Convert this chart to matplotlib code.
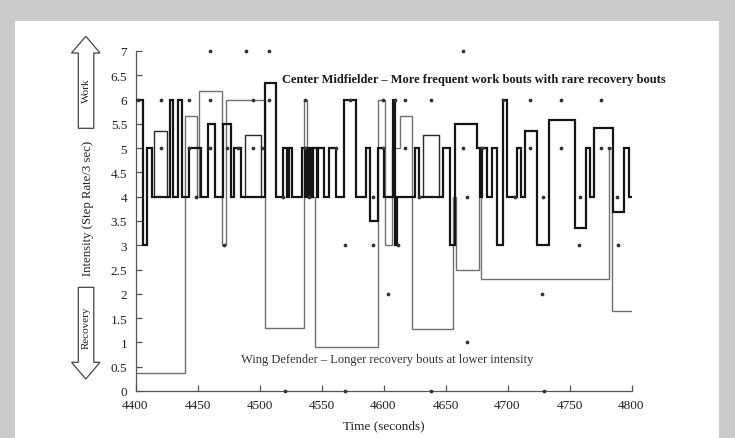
import matplotlib
matplotlib.use("Agg")
import matplotlib.pyplot as plt
from matplotlib.patches import Polygon, Rectangle

# ---------------- data ----------------
# Center midfielder: 3-second step-rate intensity (step function)
mid_edges = [4400, 4406, 4409.5, 4413.6, 4427.8, 4430.5, 4434, 4437.3, 4443.4, 4452.8,
             4458.7, 4464, 4470.8, 4476.8, 4479.4, 4484.8, 4504.2, 4513.6, 4519.2, 4522,
             4524, 4526.5, 4534.3, 4536.5, 4537.5, 4539.5, 4540.5, 4542.5, 4543.5, 4546,
             4547.4, 4552, 4556.3, 4561.7, 4568.2, 4577.8, 4586, 4589.1, 4595.3, 4600,
             4607.7, 4609.6, 4611, 4625.6, 4628.9, 4648, 4653.8, 4657.4, 4675.2, 4677.9,
             4679.7, 4683.8, 4687.8, 4691.8, 4696.4, 4699.4, 4708, 4711.2, 4714.4, 4723.8,
             4733.2, 4754.2, 4763.6, 4766.8, 4769.5, 4784.8, 4793.7, 4798.3, 4800]
mid_vals = [6, 3, 5, 4, 6, 4, 6, 4, 5, 4,
            5.5, 4, 5.5, 4, 5, 4, 6.35, 4, 5, 4,
            5, 4, 5, 4, 5, 4, 5, 4, 5, 4,
            5, 4, 5, 4, 6, 4, 5, 3.5, 5, 4,
            6, 3, 4, 5, 4, 5, 3, 5.5, 5, 4,
            5, 4, 5, 3, 6, 4, 5, 4, 5.35, 3,
            5.58, 3.35, 5, 4, 5.42, 3.68, 5, 4]

# Midfielder averaged bouts (thin boxes above the 4 baseline)
box_start = [4415, 4488.6, 4631.6]
box_end = [4425, 4501.5, 4644.8]
box_level = [5.35, 5.27, 5.27]
box_base = 4

# Wing defender: averaged bout intensity (step function)
def_edges = [4400, 4440, 4449.3, 4451.5, 4470, 4472.7, 4504.6, 4535.7, 4538.6, 4544.8,
             4595.5, 4601.2, 4607, 4613.5, 4622.8, 4656, 4658.8, 4676.8, 4679, 4781.8,
             4784.6, 4800]
def_vals = [0.38, 5.67, 4, 6.17, 3, 6.0, 1.3, 6, 4, 0.9,
            6, 3, 5, 5.67, 1.28, 4, 2.5, 4, 2.3, 5,
            1.65]

# Raw samples (dots)
dot_t = [4460.4, 4488.8, 4508, 4664.4,
         4402, 4420.8, 4443.4, 4460.4, 4494.4, 4508, 4536.7, 4573, 4599.4, 4609.6,
         4617.6, 4638, 4696.5, 4718.4, 4743, 4775.8,
         4420.8, 4443.4, 4460.4, 4473.7, 4483, 4494.4, 4502, 4536.7, 4561.7, 4599.4,
         4617.6, 4664.4, 4679.5, 4718.4, 4743, 4775.8, 4781.5,
         4449, 4519, 4539.7, 4591.5, 4628.5, 4667.4, 4706, 4728.6, 4758.8, 4788.3,
         4471, 4569.2, 4591.5, 4611.5, 4758, 4789,
         4604, 4727.5,
         4667.4,
         4520.9, 4569.2, 4638.7, 4729.7]
dot_v = [7, 7, 7, 7,
         6, 6, 6, 6, 6, 6, 6, 6, 6, 6,
         6, 6, 6, 6, 6, 6,
         5, 5, 5, 5, 5, 5, 5, 5, 5, 5,
         5, 5, 5, 5, 5, 5, 5,
         4, 4, 4, 4, 4, 4, 4, 4, 4, 4,
         3, 3, 3, 3, 3, 3,
         2, 2,
         1,
         0, 0, 0, 0]

x_ticks = [4400, 4450, 4500, 4550, 4600, 4650, 4700, 4750, 4800]
y_ticks = [0, 0.5, 1, 1.5, 2, 2.5, 3, 3.5, 4, 4.5, 5, 5.5, 6, 6.5, 7]
y_tick_labels = ["0", "0.5", "1", "1.5", "2", "2.5", "3", "3.5", "4", "4.5", "5", "5.5", "6", "6.5", "7"]

title_mid = "Center Midfielder \u2013 More frequent work bouts with rare recovery bouts"
title_def = "Wing Defender \u2013 Longer recovery bouts at lower intensity"

# ---------------- figure ----------------
plt.rcParams["font.family"] = ["Liberation Serif", "DejaVu Serif"]
W, H = 735, 439
fig = plt.figure(figsize=(W / 100, H / 100), dpi=100)
fig.patch.set_facecolor("#cbcbcb")
fig.patches.append(Rectangle((15 / W, 0), (719 - 15) / W, (H - 22) / H,
                             transform=fig.transFigure, facecolor="white",
                             edgecolor="none", zorder=-10))

ax = fig.add_axes([135.5 / W, (H - 392) / H, 496 / W, 340 / H])
ax.set_zorder(1)
ax.set_facecolor("none")
ax.set_xlim(4400, 4800)
ax.set_ylim(0, 7)

# wing defender (thin gray)
ax.stairs(def_vals, def_edges, color="#707070", linewidth=1.0, baseline=None, zorder=2)
# midfielder bouts (thin dark boxes)
for s, e, lv in zip(box_start, box_end, box_level):
    ax.plot([s, s, e, e], [box_base, lv, lv, box_base], color="#2a2a2a",
            linewidth=1.0, zorder=3)
# midfielder raw (thick black)
ax.stairs(mid_vals, mid_edges, color="#151515", linewidth=1.6, baseline=None, zorder=4)
# dots
ax.plot(dot_t, dot_v, "o", markersize=1.7, color="#333333", clip_on=False, zorder=5)

for side in ("top", "right"):
    ax.spines[side].set_visible(False)
for side in ("left", "bottom"):
    ax.spines[side].set_color("#555555")
    ax.spines[side].set_linewidth(0.9)

ax.set_xticks(x_ticks)
ax.set_yticks(y_ticks)
ax.set_yticklabels(y_tick_labels)
ax.tick_params(direction="in", length=4, width=0.9, colors="#555555",
               labelcolor="#222222", labelsize=9.5, pad=6)

ax.set_xlabel("Time (seconds)", fontsize=9.5, color="#222222", labelpad=6)

ax.text(0.295, 0.918, title_mid, transform=ax.transAxes, fontsize=9, fontweight="bold",
        color="#1a1a1a", ha="left", va="center")
ax.text(0.212, 0.094, title_def, transform=ax.transAxes, fontsize=9,
        color="#333333", ha="left", va="center")

# block arrows (Work / Recovery) and y label between them
def fx(x):
    return x / W

def fy(y):
    return (H - y) / H

fig.text(fx(88), fy(208), "Intensity (Step Rate/3 sec)", rotation=90, ha="center",
         va="center", fontsize=9.2, color="#222222")

up = [(85.8, 37.3), (100, 54), (93.8, 54), (93.8, 129.3), (78.3, 129.3), (78.3, 54), (71.5, 54)]
down = [(78.3, 288.3), (93.8, 288.3), (93.8, 363.3), (100, 363.3), (85.8, 380), (71.5, 363.3), (78.3, 363.3)]
for pts in (up, down):
    fig.patches.append(Polygon([(fx(x), fy(y)) for x, y in pts], closed=True,
                               transform=fig.transFigure, facecolor="white",
                               edgecolor="#444444", linewidth=0.9, zorder=3))
fig.text(fx(86), fy(91), "Work", rotation=90, ha="center", va="center",
         fontsize=8, color="#222222")
fig.text(fx(86), fy(328), "Recovery", rotation=90, ha="center", va="center",
         fontsize=8, color="#222222")

fig.savefig("out.png", dpi=100)
